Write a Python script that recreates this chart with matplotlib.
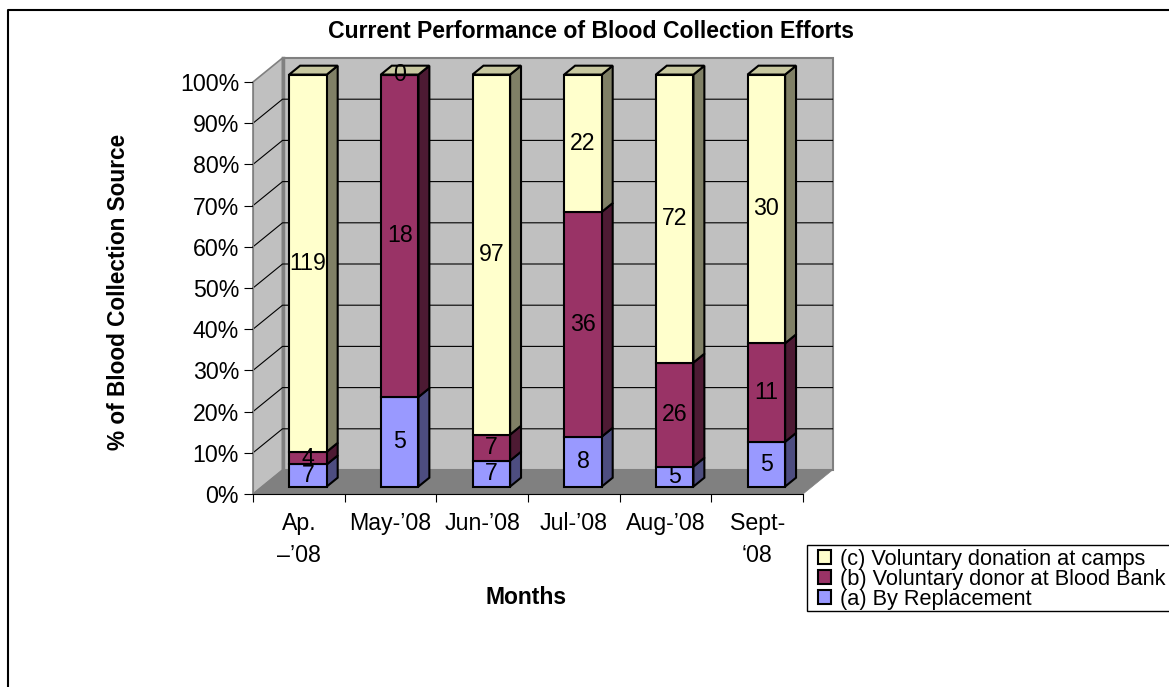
import matplotlib
matplotlib.use('Agg')
import matplotlib.pyplot as plt
from matplotlib.patches import Polygon, Rectangle

months = ["Ap.\n\u2013\u201908", "May-\u201908", "Jun-\u201908", "Jul-\u201908", "Aug-\u201908", "Sept-\n\u201808"]
replacement = [7, 5, 7, 8, 5, 5]
blood_bank = [4, 18, 7, 36, 26, 11]
camps = [119, 0, 97, 22, 72, 30]
pct_ticks = [0, 10, 20, 30, 40, 50, 60, 70, 80, 90, 100]

series_names = ["(a) By Replacement", "(b) Voluntary donor at Blood Bank", "(c) Voluntary donation at camps"]
front_cols = ['#9999FF', '#993366', '#FFFFCC']
side_cols = ['#4D4D80', '#4D1A33', '#808066']
top_col = '#C8C8A0'

plt.rcParams['font.family'] = ['Liberation Sans', 'DejaVu Sans']

W, H = 1169, 687
fig = plt.figure(figsize=(W / 100, H / 100), dpi=100, facecolor='white')
ax = fig.add_axes([0, 0, 1, 1])

# pixels per unit, the full figure is one axes
sx = 91.67
sy = 4.12
x0 = 253
y0 = 494
ax.set_xlim(-x0 / sx, (W - x0) / sx)
ax.set_ylim(-(H - y0) / sy, y0 / sy)

# depth offset of the back wall in data units
dx = 29.5 / sx
dy = 24 / sy
n = len(months)


def depth(x, y, t):
    return (x + dx * t, y + dy * t)


def poly(pts, fc, ec='black', lw=1.5, z=2):
    ax.add_patch(Polygon(pts, closed=True, facecolor=fc, edgecolor=ec, linewidth=lw, joinstyle='miter', zorder=z))


# walls and floor
poly([depth(0, 0, 1), depth(n, 0, 1), depth(n, 100, 1), depth(0, 100, 1)], '#C0C0C0', '#808080', 1.5, 1)
poly([(0, 0), depth(0, 0, 1), depth(0, 100, 1), (0, 100)], '#C0C0C0', '#808080', 1.2, 1)
poly([(0, 0), (n, 0), depth(n, 0, 1), depth(0, 0, 1)], '#808080', '#808080', 0.5, 1)
ax.plot([depth(0, 0, 1)[0]] * 2, [depth(0, 0, 1)[1], depth(0, 100, 1)[1]], color='#808080', lw=2.5, zorder=1.2)

for p in pct_ticks[1:-1]:
    ax.plot([0, dx, n + dx], [p, p + dy, p + dy], color='black', lw=0.8, zorder=1.5)

# bars
t1 = 0.31
t2 = 0.68
bar_w = 0.41
for i in range(n):
    vals = [replacement[i], blood_bank[i], camps[i]]
    total = sum(vals)
    left = i + 0.5 - bar_w / 2
    right = left + bar_w
    bottom = 0
    for j, v in enumerate(vals):
        top = bottom + v / total * 100
        f1 = depth(left, bottom, t1)
        f2 = depth(right, bottom, t1)
        f3 = depth(right, top, t1)
        f4 = depth(left, top, t1)
        poly([f2, depth(right, bottom, t2), depth(right, top, t2), f3], side_cols[j])
        poly([f1, f2, f3, f4], front_cols[j])
        bottom = top
    poly([depth(left, 100, t1), depth(right, 100, t1), depth(right, 100, t2), depth(left, 100, t2)], top_col)

    bottom = 0
    for v in vals:
        top = bottom + v / total * 100
        lx, ly = depth(i + 0.5, (bottom + top) / 2, t1)
        ax.text(lx, ly, str(v), ha='center', va='center', fontsize=16.7, color='black', zorder=5)
        bottom = top

# axes
for s in ['top', 'right']:
    ax.spines[s].set_visible(False)
ax.spines['left'].set_position(('data', 0))
ax.spines['left'].set_bounds(0, 100)
ax.spines['left'].set_color('#808080')
ax.spines['bottom'].set_position(('data', 0))
ax.spines['bottom'].set_bounds(0, n)
ax.spines['left'].set_zorder(3)
ax.spines['bottom'].set_zorder(3)
ax.patch.set_visible(False)

ax.set_yticks(pct_ticks)
ax.set_yticklabels([str(p) + '%' for p in pct_ticks], fontsize=16.7)
ax.tick_params(axis='y', length=6.5, width=0.8, pad=3.5)
ax.set_xticks(range(n + 1))
ax.set_xticklabels([])
ax.tick_params(axis='x', which='major', length=6, width=0.8)
ax.set_xticks([i + 0.5 for i in range(n)], minor=True)
ax.set_xticklabels(months, minor=True, fontsize=16.7, linespacing=1.5)
ax.tick_params(axis='x', which='minor', length=0, pad=13)

fig.text(591 / W, 1 - 32 / H, 'Current Performance of Blood Collection Efforts',
         ha='center', va='center', fontsize=16.6, fontweight='bold')
fig.text(526 / W, 1 - 597 / H, 'Months', ha='center', va='center', fontsize=16.5, fontweight='bold')
fig.text(119 / W, 1 - 292 / H, '% of Blood Collection Source', ha='center', va='center',
         rotation=90, fontsize=16.3, fontweight='bold')

# outer border, only top and left show in the reference
fig.add_artist(plt.Line2D([8 / W, 8 / W, 1], [0, 1 - 10 / H, 1 - 10 / H], transform=fig.transFigure,
                          color='black', linewidth=1.5))

# legend box runs off the right edge, so the frame is its own rectangle
ax.add_patch(Rectangle((806.5 / W, 1 - 610.5 / H), 380 / W, 66 / H, transform=fig.transFigure,
                       facecolor='white', edgecolor='black', linewidth=1, zorder=5.5))
handles = [Rectangle((0, 0), 1, 1, facecolor=front_cols[j], edgecolor='black', linewidth=1.5) for j in [2, 1, 0]]
labels = [series_names[j] for j in [2, 1, 0]]
leg = ax.legend(handles, labels, loc='upper left', bbox_to_anchor=(818 / W, 1 - 549 / H),
                bbox_transform=fig.transFigure, fontsize=15.7, frameon=False, borderpad=0,
                labelspacing=-0.05, handlelength=0.6, handleheight=0.6, handletextpad=0.41,
                borderaxespad=0)
leg.set_zorder(6)

fig.savefig('out.png', dpi=100)
